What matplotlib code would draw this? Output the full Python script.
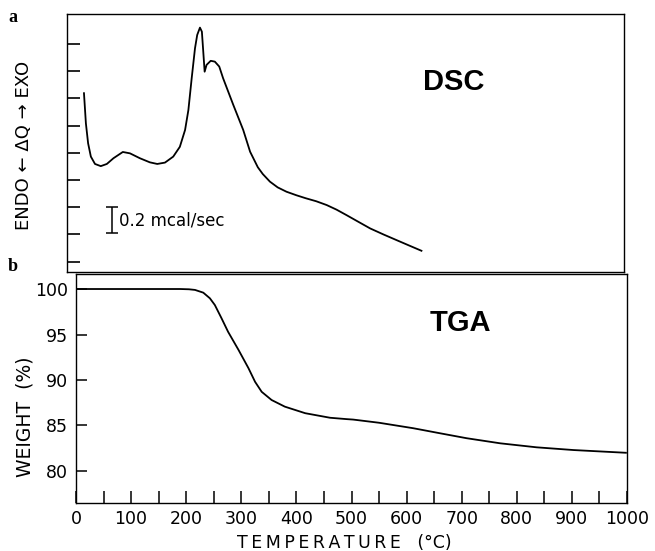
import numpy as np
import matplotlib
matplotlib.use("Agg")
import matplotlib.pyplot as plt

# DSC trace, temperature (C) vs signal in tick units
dsc_temp = [14.5, 18, 22, 27, 34.5, 45, 56, 68, 85, 98, 116, 134, 147.5,
            161.5, 176.5, 188.5, 198, 204, 210, 216, 220, 225, 228.5, 231,
            233.5, 237, 244.5, 252, 260, 267, 285.5, 303.5, 316, 330, 339,
            352, 366, 382, 400, 417, 436, 455, 473, 491, 512, 534, 558, 582,
            605, 627]
dsc_sig = [7.19, 6.08, 5.35, 4.86, 4.59, 4.51, 4.59, 4.80, 5.03, 4.98, 4.80,
           4.65, 4.59, 4.64, 4.86, 5.22, 5.84, 6.57, 7.74, 8.84, 9.33, 9.60,
           9.45, 8.72, 7.98, 8.23, 8.38, 8.35, 8.17, 7.74, 6.76, 5.84, 5.04,
           4.47, 4.22, 3.94, 3.73, 3.57, 3.44, 3.33, 3.22, 3.08, 2.91, 2.71,
           2.47, 2.22, 2.00, 1.79, 1.59, 1.40]

# TGA trace, temperature (C) vs weight (%)
tga_temp = [0, 100, 189, 205, 216, 231, 243, 252, 264, 276, 295, 313, 325,
            337, 355, 379, 416, 443, 461, 491, 503, 550, 612, 661, 709, 770,
            836, 903, 998]
tga_wt = [100.0, 100.0, 100.0, 99.97, 99.9, 99.6, 98.98, 98.24, 96.8, 95.3,
          93.3, 91.3, 89.8, 88.7, 87.8, 87.07, 86.35, 86.05, 85.85, 85.7,
          85.65, 85.3, 84.7, 84.14, 83.6, 83.04, 82.6, 82.3, 82.0]

x_labels = [0, 100, 200, 300, 400, 500, 600, 700, 800, 900, 1000]
wt_ticks = [80, 85, 90, 95, 100]
dsc_ticks = [1, 2, 3, 4, 5, 6, 7, 8, 9]

fig = plt.figure(figsize=(6.55, 5.51), dpi=100)
W, H = 655.0, 551.0

# top panel (DSC)
ax1 = fig.add_axes([67 / W, 1 - 272 / H, (624 - 67) / W, (272 - 14) / H])
ax1.plot(dsc_temp, dsc_sig, color="k", lw=1.3)
ax1.set_xlim(-16.3, 994.6)
ax1.set_ylim(0.62, 10.1)
ax1.set_xticks([])
ax1.set_yticks(dsc_ticks)
ax1.set_yticklabels([])
ax1.tick_params(axis="y", direction="in", length=9, width=1.2)
for s in ax1.spines.values():
    s.set_linewidth(1.0)

ax1.errorbar([65], [2.53], yerr=[0.49], color="k", lw=1.1, capsize=4,
             capthick=1.1)
ax1.text(78, 2.5, "0.2 mcal/sec", fontsize=12, va="center", ha="left")
ax1.text(685, 7.6, "DSC", fontsize=21, fontweight="bold", ha="center",
         va="center", family="Liberation Sans")

# bottom panel (TGA)
ax2 = fig.add_axes([76 / W, 1 - 503 / H, (627 - 76) / W, (503 - 274) / H])
ax2.plot(tga_temp, tga_wt, color="k", lw=1.3)
ax2.set_xlim(0, 1000)
ax2.set_ylim(76.48, 101.65)
ax2.set_xticks(np.arange(0, 1001, 50))
ax2.set_xticklabels([str(v) if v in x_labels else "" for v in range(0, 1001, 50)])
ax2.set_yticks(wt_ticks)
ax2.tick_params(axis="x", direction="in", length=9, width=1.1, labelsize=12.5,
                pad=5)
ax2.tick_params(axis="y", direction="in", length=8, width=1.1, labelsize=12.5,
                pad=6)
for s in ax2.spines.values():
    s.set_linewidth(1.0)
ax2.text(698, 96.3, "TGA", fontsize=21, fontweight="bold", ha="center",
         va="center", family="Liberation Sans")

# axis titles, placed where the reference has them
fig.text(344 / W, 1 - 543 / H, "\u2009".join("TEMPERATURE") + "   (\u00b0C)",
         fontsize=12.5, ha="center", va="center")
fig.text(25 / W, 1 - 417 / H, "WEIGHT  (%)", fontsize=13.5, rotation=90,
         ha="center", va="center")
fig.text(24 / W, 1 - 145 / H, "ENDO \u2190 \u0394Q \u2192 EXO", fontsize=13,
         rotation=90, ha="center", va="center")

fig.text(13 / W, 1 - 17 / H, "a", fontsize=13, fontweight="bold",
         family="Liberation Serif", ha="center", va="center")
fig.text(13 / W, 1 - 266 / H, "b", fontsize=13, fontweight="bold",
         family="Liberation Serif", ha="center", va="center")

fig.savefig("out.png", dpi=100)
